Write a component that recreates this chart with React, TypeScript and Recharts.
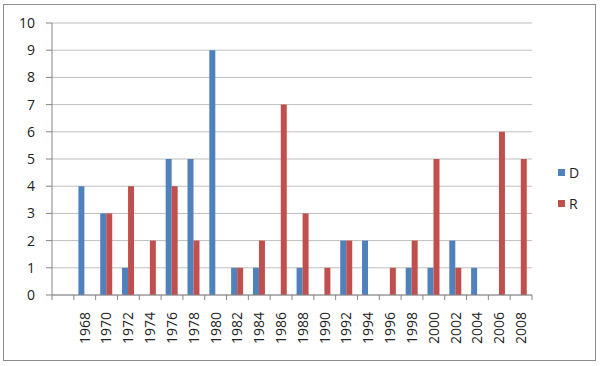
import React from 'react';
import { BarChart, Bar, XAxis, YAxis, CartesianGrid } from 'recharts';

const years = ['', '1968', '1970', '1972', '1974', '1976', '1978', '1980', '1982', '1984', '1986', '1988', '1990', '1992', '1994', '1996', '1998', '2000', '2002', '2004', '2006', '2008'];
const dValues = [null, 4, 3, 1, 0, 5, 5, 9, 1, 1, 0, 1, 0, 2, 2, 0, 1, 1, 2, 1, 0, 0];
const rValues = [null, 0, 3, 4, 2, 4, 2, 0, 1, 2, 7, 3, 1, 2, 0, 1, 2, 5, 1, 0, 6, 5];
const yTicks = [0, 1, 2, 3, 4, 5, 6, 7, 8, 9, 10];

const data = years.map((year, i) => ({ year, D: dValues[i], R: rValues[i] }));

const BLUE = '#4F81BD';
const RED = '#C0504D';
const AXIS = '#868686';
const FONT = '"Open Sans", sans-serif';

const PLOT_LEFT = 52;
const PLOT_RIGHT = 532;
const BAND = (PLOT_RIGHT - PLOT_LEFT) / years.length;

function YearTick(props: any) {
  const { x, y, payload, index } = props;
  const isLast = index === years.length - 1;
  return (
    <g>
      <line x1={x - BAND / 2} y1={y} x2={x - BAND / 2} y2={y + 5} stroke={AXIS} />
      {isLast && <line x1={x + BAND / 2} y1={y} x2={x + BAND / 2} y2={y + 5} stroke={AXIS} />}
      <g transform={`translate(${x},${y})`}>
        <text
          transform="rotate(-90)"
          x={-17}
          y={0}
          dy="0.35em"
          textAnchor="end"
          fontSize={14}
          fontFamily={FONT}
          fill="#222"
        >
          {payload.value}
        </text>
      </g>
    </g>
  );
}

function Legend() {
  const items = [
    { name: 'D', color: BLUE, top: 163 },
    { name: 'R', color: RED, top: 194 },
  ];
  return (
    <>
      {items.map((it) => (
        <div
          key={it.name}
          style={{
            position: 'absolute',
            left: 558,
            top: it.top,
            display: 'flex',
            alignItems: 'center',
            fontFamily: FONT,
            fontSize: 14,
            color: '#222',
          }}
        >
          <span style={{ display: 'inline-block', width: 7, height: 7, background: it.color, marginRight: 4 }} />
          {it.name}
        </div>
      ))}
    </>
  );
}

export default function App() {
  return (
    <div style={{ position: 'fixed', left: 0, top: 0, width: 600, height: 366, background: '#fff' }}>
      <div
        style={{
          position: 'absolute',
          left: 3,
          top: 4,
          width: 593,
          height: 357,
          border: '1px solid #8c8c8c',
          boxSizing: 'border-box',
        }}
      />
      <BarChart
        width={600}
        height={366}
        data={data}
        margin={{ top: 23, right: 600 - PLOT_RIGHT, bottom: 21, left: 12 }}
        barCategoryGap="21%"
        barGap={0}
      >
        <CartesianGrid vertical={false} stroke="#BEBEBE" />
        <XAxis
          dataKey="year"
          interval={0}
          height={50}
          tickLine={false}
          tickSize={0}
          tickMargin={0}
          stroke={AXIS}
          tick={<YearTick />}
        />
        <YAxis
          domain={[0, 10]}
          ticks={yTicks}
          interval={0}
          width={40}
          stroke={AXIS}
          tickSize={6}
          tickMargin={11}
          tick={{ fontSize: 14, fontFamily: FONT, fill: '#222' }}
        />
        <Bar dataKey="D" fill={BLUE} isAnimationActive={false} />
        <Bar dataKey="R" fill={RED} isAnimationActive={false} />
      </BarChart>
      <Legend />
    </div>
  );
}
